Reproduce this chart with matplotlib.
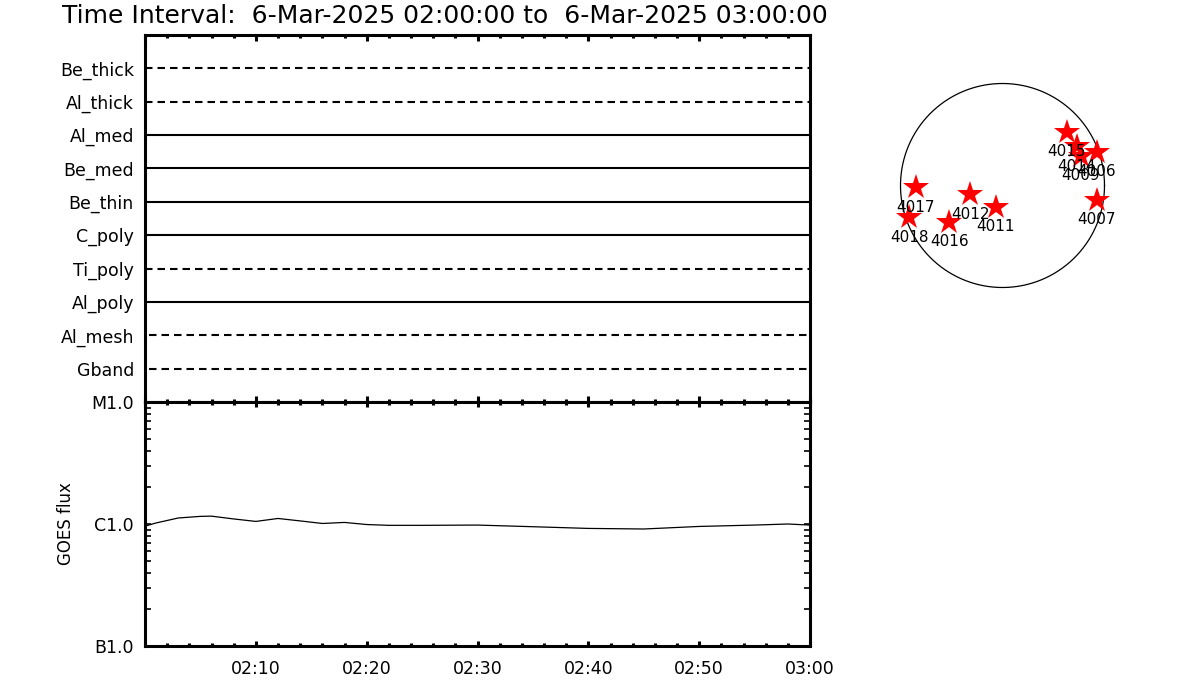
import numpy as np
import matplotlib
matplotlib.use("Agg")
import matplotlib.pyplot as plt
from matplotlib.ticker import FixedLocator, LogLocator, NullFormatter, FixedFormatter

# ---------------- data ----------------
title = "Time Interval:  6-Mar-2025 02:00:00 to  6-Mar-2025 03:00:00"

filters = ["Be_thick", "Al_thick", "Al_med", "Be_med", "Be_thin",
           "C_poly", "Ti_poly", "Al_poly", "Al_mesh", "Gband"]
filter_dashed = [True, True, False, False, False, False, True, False, True, True]
filter_start = [0.0, 0.0, 0.0, 0.0, 0.0, 0.0, 0.0, 0.0, 0.4, 0.4]  # minutes

# GOES flux (W/m^2) vs minutes after 02:00
goes_min = [0, 1, 3, 5, 6, 8, 10, 12, 14, 16, 18, 20, 22, 25, 30, 35, 40, 45, 50, 55, 58, 60]
goes_flux = [0.96e-6, 1.02e-6, 1.12e-6, 1.155e-6, 1.16e-6, 1.10e-6, 1.05e-6, 1.11e-6,
             1.06e-6, 1.01e-6, 1.03e-6, 0.99e-6, 0.975e-6, 0.975e-6, 0.98e-6, 0.95e-6,
             0.92e-6, 0.91e-6, 0.955e-6, 0.98e-6, 1.0e-6, 0.98e-6]

goes_ticks = [1e-7, 1e-6, 1e-5]
goes_tick_labels = ["B1.0", "C1.0", "M1.0"]

time_ticks = [0, 10, 20, 30, 40, 50, 60]
time_tick_labels = ["", "02:10", "02:20", "02:30", "02:40", "02:50", "03:00"]

# Active regions on the solar disk (arcsec)
ar_names = ["4015", "4014", "4009", "4006", "4007", "4017", "4018", "4016", "4012", "4011"]
ar_x = [609, 703, 741, 893, 893, -823, -884, -504, -308, -62]
ar_y = [510, 374, 280, 320, -137, -17, -301, -343, -83, -201]
r_sun = 967

# ---------------- figure ----------------
W, H = 1200, 700
fig = plt.figure(figsize=(12, 7), dpi=100)
fig.patch.set_facecolor("white")

def fx(px):
    return px / W

def fy(py):
    return 1 - py / H

x0, x1 = 145, 810
ax1 = fig.add_axes([fx(x0), fy(402), fx(x1) - fx(x0), fy(35) - fy(402)])
ax2 = fig.add_axes([fx(x0), fy(646), fx(x1) - fx(x0), fy(402) - fy(646)])

# top panel
n = len(filters)
for i, (name, dashed, st) in enumerate(zip(filters, filter_dashed, filter_start)):
    yv = n - i
    ls = (0, (3.6, 2.4)) if dashed else "-"
    ax1.plot([st, 60], [yv, yv], color="black", lw=1.5, ls=ls, solid_capstyle="butt")
ax1.set_xlim(0, 60)
ax1.set_ylim(0, n + 1)
ax1.set_yticks(range(n, 0, -1))
ax1.set_yticklabels(filters, fontsize=12.5)
ax1.tick_params(axis="y", length=0, pad=8)
ax1.xaxis.set_major_locator(FixedLocator(time_ticks))
ax1.xaxis.set_minor_locator(FixedLocator(list(range(0, 61, 2))))
ax1.tick_params(axis="x", which="both", direction="in", top=True, bottom=True,
                labelbottom=False, color="black")
ax1.tick_params(axis="x", which="major", length=4.5, width=2.2)
ax1.tick_params(axis="x", which="minor", length=2.5, width=2.2)
for sp in ax1.spines.values():
    sp.set_linewidth(2.2)

# bottom panel
ax2.plot(goes_min, goes_flux, color="black", lw=0.9)
ax2.set_yscale("log")
ax2.set_ylim(1e-7, 1e-5)
ax2.set_xlim(0, 60)
ax2.yaxis.set_major_locator(FixedLocator(goes_ticks))
ax2.yaxis.set_major_formatter(FixedFormatter(goes_tick_labels))
ax2.yaxis.set_minor_locator(LogLocator(base=10, subs=np.arange(2, 10)))
ax2.yaxis.set_minor_formatter(NullFormatter())
ax2.tick_params(axis="y", which="both", direction="in", left=True, right=True,
                labelsize=12.5, pad=8, width=1.2)
ax2.tick_params(axis="y", which="major", length=4)
ax2.tick_params(axis="y", which="minor", length=4)
ax2.xaxis.set_major_locator(FixedLocator(time_ticks))
ax2.xaxis.set_major_formatter(FixedFormatter(time_tick_labels))
ax2.xaxis.set_minor_locator(FixedLocator(list(range(0, 61, 2))))
ax2.tick_params(axis="x", which="both", direction="in", top=True, bottom=True,
                labelsize=12.5, pad=10)
ax2.tick_params(axis="x", which="major", length=3.5, width=2.2)
ax2.tick_params(axis="x", which="minor", length=2.2, width=2.2)
ax2.set_ylabel("GOES flux", fontsize=12, labelpad=12)
for sp in ax2.spines.values():
    sp.set_linewidth(2.2)

# title
fig.text(fx(62), fy(16), title, fontsize=18, ha="left", va="center", color="black")

# solar disk
cx, cy, rp = 1002.5, 185.5, 102.0
half = 125
ax3 = fig.add_axes([fx(cx - half), fy(cy + half), (2 * half) / W, (2 * half) / H])
lim = r_sun * half / rp
ax3.set_xlim(-lim, lim)
ax3.set_ylim(-lim, lim)
ax3.axis("off")
th = np.linspace(0, 2 * np.pi, 400)
ax3.plot(r_sun * np.cos(th), r_sun * np.sin(th), color="black", lw=0.9)
ax3.plot(ar_x, ar_y, ls="none", marker="*", markersize=19, color="red", markeredgewidth=0)
off = 20 * r_sun / rp
for name, x, y in zip(ar_names, ar_x, ar_y):
    ax3.text(x, y - off, name, fontsize=11, ha="center", va="center", color="black")

fig.savefig("out.png", dpi=100, facecolor="white")
